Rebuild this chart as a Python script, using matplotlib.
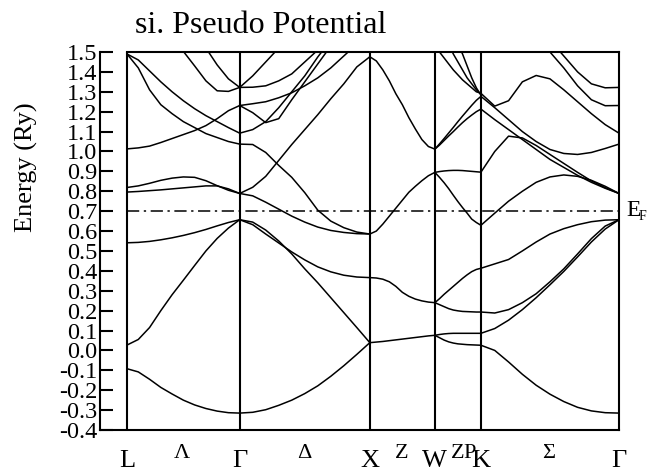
import numpy as np
from matplotlib import pyplot as plt

plt.rcParams['font.family'] = ['Liberation Serif', 'DejaVu Serif']

# path L -> G -> X -> W -> K -> G, segment lengths in units of 2pi/a
seg_len = [0.866, 1.0, 0.5, 0.354, 1.061]
point_labels = ['L', 'Γ', 'X', 'W', 'K', 'Γ']
line_labels = ['Λ', 'Δ', 'Z', 'Z', 'P', 'Σ']
line_label_pos = [0.42, 1.36, 2.11, 2.54, 2.63, 3.24]
e_fermi = 0.70
e_ticks = [-0.4, -0.3, -0.2, -0.1, 0.0, 0.1, 0.2, 0.3, 0.4, 0.5,
           0.6, 0.7, 0.8, 0.9, 1.0, 1.1, 1.2, 1.3, 1.4, 1.5]

# fractional position along each segment
t = [0.0, 0.1, 0.2, 0.3, 0.4, 0.5, 0.6, 0.7, 0.8, 0.9, 1.0]

# L -> Gamma
lg_bands = [
    [-0.092, -0.108, -0.145, -0.186, -0.219, -0.250, -0.274, -0.292, -0.305, -0.313, -0.315],
    [0.027, 0.055, 0.115, 0.200, 0.280, 0.353, 0.427, 0.500, 0.563, 0.615, 0.657],
    [0.541, 0.543, 0.548, 0.556, 0.566, 0.578, 0.592, 0.608, 0.626, 0.643, 0.657],
    [0.796, 0.799, 0.803, 0.807, 0.812, 0.817, 0.822, 0.827, 0.827, 0.812, 0.789],
    [0.819, 0.827, 0.840, 0.855, 0.866, 0.872, 0.870, 0.853, 0.828, 0.805, 0.789],
    [1.013, 1.018, 1.027, 1.045, 1.065, 1.085, 1.105, 1.130, 1.165, 1.205, 1.231],
    [1.490, 1.460, 1.405, 1.350, 1.300, 1.255, 1.215, 1.180, 1.150, 1.120, 1.092],
    [1.490, 1.420, 1.310, 1.235, 1.190, 1.150, 1.120, 1.090, 1.070, 1.050, 1.037],
    [None, None, None, 1.640, 1.570, 1.503, 1.430, 1.355, 1.305, 1.302, 1.322],
    [None, None, None, None, None, None, 1.600, 1.520, 1.435, 1.365, 1.322],
]

# Gamma -> X
gx_bands = [
    [-0.315, -0.311, -0.298, -0.276, -0.250, -0.217, -0.178, -0.130, -0.077, -0.020, 0.039],
    [0.657, 0.645, 0.605, 0.550, 0.485, 0.410, 0.340, 0.265, 0.190, 0.115, 0.039],
    [0.657, 0.632, 0.585, 0.540, 0.495, 0.455, 0.420, 0.395, 0.378, 0.369, 0.366],
    [0.789, 0.777, 0.745, 0.710, 0.675, 0.645, 0.620, 0.603, 0.593, 0.587, 0.585],
    [1.037, 1.035, 0.995, 0.930, 0.870, 0.793, 0.705, 0.650, 0.617, 0.595, 0.585],
    [0.789, 0.820, 0.875, 0.955, 1.035, 1.110, 1.185, 1.265, 1.340, 1.425, 1.476],
    [1.092, 1.110, 1.150, 1.220, 1.300, 1.380, 1.475, 1.560],
    [1.231, 1.195, 1.145, 1.165, 1.260, 1.350, 1.440, 1.530],
    [1.231, 1.240, 1.250, 1.270, 1.295, 1.330, 1.370, 1.420, 1.480, 1.540],
    [1.322, 1.380, 1.450, 1.520],
    [1.322, 1.323, 1.330, 1.355, 1.390, 1.450, 1.510],
]

# X -> W
xw_bands = [
    [0.039, 0.042, 0.045, 0.049, 0.053, 0.057, 0.061, 0.065, 0.069, 0.073, 0.076],
    [0.366, 0.364, 0.358, 0.345, 0.322, 0.292, 0.272, 0.258, 0.249, 0.243, 0.240],
    [0.585, 0.600, 0.635, 0.675, 0.715, 0.755, 0.795, 0.825, 0.853, 0.878, 0.895],
    [1.476, 1.455, 1.410, 1.355, 1.290, 1.235, 1.170, 1.113, 1.060, 1.025, 1.012],
]

# W -> K
wk_bands = [
    [0.076, 0.064, 0.052, 0.043, 0.037, 0.033, 0.031, 0.029, 0.028, 0.027, 0.026],
    [0.076, 0.080, 0.083, 0.085, 0.086, 0.086, 0.086, 0.086, 0.086, 0.086, 0.086],
    [0.240, 0.230, 0.220, 0.210, 0.203, 0.199, 0.196, 0.195, 0.194, 0.193, 0.193],
    [0.240, 0.260, 0.282, 0.302, 0.322, 0.342, 0.362, 0.380, 0.396, 0.407, 0.413],
    [0.895, 0.899, 0.902, 0.904, 0.905, 0.905, 0.904, 0.902, 0.900, 0.898, 0.896],
    [0.895, 0.870, 0.843, 0.813, 0.780, 0.748, 0.718, 0.690, 0.660, 0.643, 0.629],
    [1.012, 1.032, 1.055, 1.078, 1.100, 1.123, 1.145, 1.165, 1.183, 1.200, 1.213],
    [1.012, 1.038, 1.065, 1.093, 1.121, 1.150, 1.178, 1.205, 1.232, 1.257, 1.277],
    [1.540, 1.500, 1.470, 1.440, 1.410, 1.385, 1.360, 1.340, 1.320, 1.300, 1.293],
    [None, None, 1.580, 1.540, 1.490, 1.450, 1.410, 1.370, 1.340, 1.310, 1.287],
    [None, None, None, None, 1.580, 1.540, 1.490, 1.430, 1.370, 1.320, 1.283],
]

# K -> Gamma
kg_bands = [
    [0.026, 0.000, -0.058, -0.120, -0.175, -0.220, -0.257, -0.286, -0.304, -0.313, -0.315],
    [0.086, 0.110, 0.152, 0.205, 0.265, 0.330, 0.397, 0.470, 0.545, 0.610, 0.657],
    [0.193, 0.188, 0.205, 0.240, 0.285, 0.345, 0.410, 0.485, 0.562, 0.625, 0.657],
    [0.413, 0.435, 0.457, 0.500, 0.545, 0.585, 0.612, 0.632, 0.647, 0.655, 0.657],
    [0.629, 0.690, 0.750, 0.800, 0.845, 0.872, 0.882, 0.875, 0.855, 0.825, 0.789],
    [0.896, 1.000, 1.077, 1.068, 1.030, 0.985, 0.940, 0.895, 0.852, 0.818, 0.789],
    [1.213, 1.160, 1.110, 1.060, 1.010, 0.960, 0.920, 0.880, 0.845, 0.815, 0.789],
    [1.277, 1.220, 1.160, 1.100, 1.050, 1.010, 0.990, 0.985, 0.995, 1.015, 1.037],
    [1.292, 1.228, 1.255, 1.350, 1.382, 1.365, 1.310, 1.250, 1.190, 1.135, 1.092],
    [None, None, None, None, 1.550, 1.500, 1.420, 1.330, 1.260, 1.230, 1.231],
    [None, None, None, None, None, 1.560, 1.480, 1.400, 1.340, 1.320, 1.322],
]

segments = [lg_bands, gx_bands, xw_bands, wk_bands, kg_bands]
k_nodes = np.concatenate([[0.0], np.cumsum(seg_len)])

fig = plt.figure(figsize=(6.54, 4.73), dpi=100)
ax = fig.add_axes([100 / 654, 43 / 473, 519 / 654, 378 / 473])

tt = np.array(t)
for k0, length, bands in zip(k_nodes[:-1], seg_len, segments):
    for band in bands:
        e = np.array(band, dtype=float)
        ax.plot(k0 + length * tt[:len(e)], e, color='black', lw=1.1)

# symmetry points and frame
for k in k_nodes[:-1]:
    ax.axvline(k, color='black', lw=1.5)
ax.plot([0, k_nodes[-1]], [1.5, 1.5], color='black', lw=1.5, clip_on=False)
ax.plot([0, k_nodes[-1]], [e_fermi, e_fermi], color='black', lw=1.1,
        linestyle=(0, (8, 3, 1.5, 3)))

ax.set_xlim(-0.2077, k_nodes[-1])
ax.set_ylim(-0.4, 1.5)
ax.spines['top'].set_visible(False)
for s in ['left', 'right', 'bottom']:
    ax.spines[s].set_linewidth(1.5)
ax.set_xticks([])
ax.set_yticks(e_ticks)
ax.set_yticklabels(['%.1f' % v for v in e_ticks])
ax.tick_params(axis='y', direction='in', length=9.5, width=1.5,
               labelsize=17.5, pad=2)

for k, name in zip(k_nodes, point_labels):
    ax.text(k, -0.61, name, ha='center', va='bottom', fontsize=19)
for k, name in zip(line_label_pos, line_labels):
    ax.text(k, -0.565, name, ha='center', va='bottom', fontsize=16)

ef_y = 1 - 211 / 473
fig.text(626 / 654, ef_y, 'E', ha='left', va='center', fontsize=17)
fig.text(639 / 654, ef_y - 6 / 473, 'F', ha='left', va='center', fontsize=10)

fig.text(135 / 654, 1 - 33 / 473, 'si. Pseudo Potential', ha='left',
         va='baseline', fontsize=23)
fig.text(26 / 654, 1 - 167 / 473, 'Energy (Ry)', rotation=90, ha='center',
         va='center', fontsize=19)

fig.savefig('out.png', dpi=100)
